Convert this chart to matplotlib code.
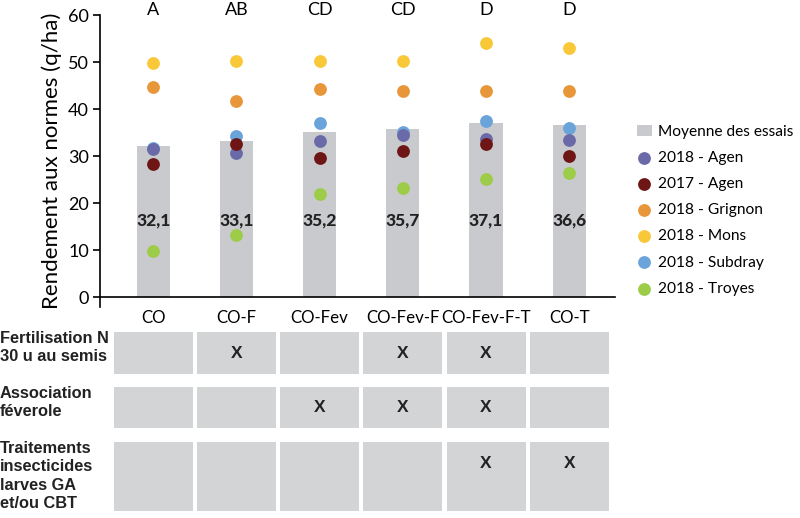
import numpy as np
import matplotlib.pyplot as plt
from matplotlib.patches import Rectangle
import matplotlib.transforms as mtransforms

plt.rcParams['font.family'] = ['Lato', 'DejaVu Sans']

# données
modalites = ["CO", "CO-F", "CO-Fev", "CO-Fev-F", "CO-Fev-F-T", "CO-T"]
moyenne = [32.1, 33.1, 35.2, 35.7, 37.1, 36.6]
lettres = ["A", "AB", "CD", "CD", "D", "D"]

subdray_2018 = [31.8, 34.3, 37.1, 35.2, 37.5, 36.0]
agen_2018 = [31.6, 30.6, 33.3, 34.5, 33.7, 33.5]
agen_2017 = [28.3, 32.6, 29.5, 31.1, 32.6, 30.1]
grignon_2018 = [44.6, 41.8, 44.3, 43.9, 43.9, 43.9]
mons_2018 = [49.7, 50.3, 50.2, 50.3, 54.1, 53.0]
troyes_2018 = [9.9, 13.2, 21.9, 23.3, 25.1, 26.3]

lignes_tableau = ["Fertilisation N\n30 u au semis", "Association\nféverole",
                  "Traitements\ninsecticides\nlarves GA\net/ou CBT"]
fertilisation = [0, 1, 0, 1, 1, 0]
feverole = [0, 0, 1, 1, 1, 0]
traitements = [0, 0, 0, 0, 1, 1]

c_bar = "#c9cacd"
x = np.arange(len(modalites))
police_gras = ['Liberation Sans', 'DejaVu Sans']

fig = plt.figure(figsize=(8, 5.18), dpi=100)
ax = fig.add_axes([0.125, 1 - 307 / 518, 0.64375, 292 / 518])
ax.set_ylim(-2.1, 60)
ax.set_xlim(-0.64, 5.55)

barres = ax.bar(x, moyenne, width=0.4, color=c_bar, label="Moyenne des essais", zorder=1)

series = [
    (agen_2018, "#6a6aa8", "2018 - Agen", 4),
    (agen_2017, "#6e1515", "2017 - Agen", 5),
    (grignon_2018, "#e8963a", "2018 - Grignon", 3),
    (mons_2018, "#f8c838", "2018 - Mons", 3),
    (subdray_2018, "#6aa4da", "2018 - Subdray", 3),
    (troyes_2018, "#9ccc48", "2018 - Troyes", 3),
]
poignees = [barres]
for vals, col, lab, z in series:
    poignees.append(ax.scatter(x, vals, s=85, color=col, label=lab, zorder=z, linewidths=0))

for i in range(len(modalites)):
    ax.text(x[i], 16.4, f"{moyenne[i]:.1f}".replace(".", ","), ha="center", va="center",
            fontsize=12.5, fontweight="black", color="#222222", zorder=6)
    ax.text(x[i], 61.0, lettres[i], ha="center", va="center", fontsize=13, clip_on=False)

ax.spines["top"].set_visible(False)
ax.spines["right"].set_visible(False)
ax.spines["bottom"].set_position(("data", 0))
ax.spines["left"].set_linewidth(1.2)
ax.spines["bottom"].set_linewidth(1.2)
ax.set_yticks(range(0, 61, 10))
ax.tick_params(axis="y", labelsize=13, length=5, width=1.2, pad=3)
ax.set_xticks(x)
ax.set_xticklabels(modalites)
ax.tick_params(axis="x", labelsize=12.2, length=0, pad=9)
ax.set_ylabel("Rendement aux normes (q/ha)", fontsize=16, labelpad=4)

ax.legend(handles=poignees, loc="upper left", bbox_to_anchor=(1.03, 0.645), frameon=False,
          fontsize=11.2, handletextpad=0.4, labelspacing=0.78, borderaxespad=0,
          handlelength=1.0)

# tableau des modalités
ax2 = fig.add_axes([0.125, 0, 0.64375, 198 / 518])
ax2.set_xlim(-0.64, 5.55)
ax2.set_ylim(198, 0)
ax2.axis("off")
tr = mtransforms.blended_transform_factory(fig.transFigure, ax2.transData)

rangees = [(12, 54, fertilisation), (67, 108, feverole), (122, 191, traitements)]
for (y0, y1, marques), nom in zip(rangees, lignes_tableau):
    for i in range(len(modalites)):
        ax2.add_patch(Rectangle((x[i] - 0.475, y0), 0.95, y1 - y0, color="#d3d4d6", lw=0))
        if marques[i]:
            ym = (y0 + y1) / 2 if y1 - y0 < 50 else y0 + 21
            ax2.text(x[i], ym, "X", ha="center", va="center", fontsize=12.5,
                     fontweight="bold", family=police_gras, color="#222222")
    ax2.text(0.0, y0 - 1, nom, transform=tr, ha="left", va="top", fontsize=11.8,
             fontweight="bold", family=police_gras, linespacing=1.28, color="#222222")

plt.savefig("out.png", dpi=100)
plt.close()
